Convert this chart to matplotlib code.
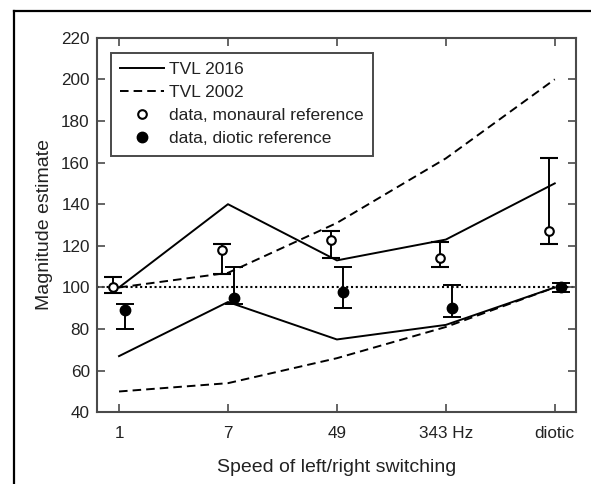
import matplotlib
matplotlib.use("Agg")
import matplotlib.pyplot as plt
from matplotlib.lines import Line2D
import numpy as np

plt.rcParams['font.family'] = ['Liberation Sans', 'DejaVu Sans']

# ---- data ----
categories = ["1", "7", "49", "343 Hz", "diotic"]
tvl2016_upper = [100, 140, 113, 123, 150]
tvl2016_lower = [67, 93, 75, 82, 100]
tvl2002_upper = [100, 107, 131, 162, 200]
tvl2002_lower = [50, 54, 66, 81, 100]

mono_mean = [100, 118, 123, 114, 127]
mono_low = [97.5, 106.5, 114, 110, 121]
mono_high = [105, 121, 127, 122, 162]

diotic_mean = [89, 95, 98, 90, 100]
diotic_low = [80, 92, 90, 86, 98]
diotic_high = [92, 110, 110, 101, 102]

yticks = [40, 60, 80, 100, 120, 140, 160, 180, 200, 220]
reference_level = 100

# ---- figure ----
W, H = 591, 484
fig = plt.figure(figsize=(W / 100, H / 100), dpi=100)
ax = fig.add_axes([96.7 / W, 1 - 412.3 / H, (576 - 96.7) / W, (412.3 - 37.7) / H])

x = np.arange(len(categories))
lw = 1.4
dash = (0, (4.4, 2.6))

ax.axhline(reference_level, color='black', linestyle=(0, (1, 1.3)), linewidth=1.5, zorder=1)

ax.plot(x, tvl2016_upper, color='black', linewidth=lw, zorder=2)
ax.plot(x, tvl2016_lower, color='black', linewidth=lw, zorder=2)
ax.plot(x, tvl2002_upper, color='black', linewidth=lw, linestyle=dash, zorder=2)
ax.plot(x, tvl2002_lower, color='black', linewidth=lw, linestyle=dash, zorder=2)

off = 0.055
mono_mean_a = np.array(mono_mean)
mono_err = [mono_mean_a - np.array(mono_low), np.array(mono_high) - mono_mean_a]
ax.errorbar(x - off, mono_mean, yerr=mono_err, fmt='o', mfc='white', mec='black',
            mew=1.5, ms=6.2, ecolor='black', elinewidth=1.4, capsize=6.5, capthick=1.4, zorder=3)

diotic_mean_a = np.array(diotic_mean)
diotic_err = [diotic_mean_a - np.array(diotic_low), np.array(diotic_high) - diotic_mean_a]
ax.errorbar(x + off, diotic_mean, yerr=diotic_err, fmt='o', mfc='black', mec='black',
            ms=7.5, ecolor='black', elinewidth=1.4, capsize=6.5, capthick=1.4, zorder=3)

ax.set_xlim(-0.205, 4.195)
ax.set_ylim(40, 220)
ax.set_xticks(x)
ax.set_xticklabels(categories)
ax.set_yticks(yticks)

spine_color = '#4a4a4a'
for s in ax.spines.values():
    s.set_color(spine_color)
    s.set_linewidth(1.5)
ax.tick_params(direction='in', length=5.5, width=1.2, color=spine_color,
               top=True, right=True, labelsize=12.3, pad=5, labelcolor='#222222')
ax.tick_params(axis='x', pad=10)

ax.set_xlabel("Speed of left/right switching", fontsize=14, labelpad=13, color='#222222')
ax.set_ylabel("Magnitude estimate", fontsize=14, labelpad=6, color='#222222')

handles = [
    Line2D([], [], color='black', linewidth=lw),
    Line2D([], [], color='black', linewidth=lw, linestyle=dash),
    Line2D([], [], color='black', marker='o', mfc='white', mew=1.5, ms=6.2, linestyle='none'),
    Line2D([], [], color='black', marker='o', mfc='black', ms=7.5, linestyle='none'),
]
labels = ["TVL 2016", "TVL 2002", "data, monaural reference", "data, diotic reference"]
leg = ax.legend(handles, labels, loc='upper left', bbox_to_anchor=(0.029, 0.96),
                borderaxespad=0, fancybox=False, framealpha=1, edgecolor='#4a4a4a',
                fontsize=12.5, handlelength=2.5, handletextpad=0.3, labelspacing=0.45,
                borderpad=0.55)
leg.get_frame().set_linewidth(1.4)
for t in leg.get_texts():
    t.set_color('#222222')

# outer frame (left and top)
fig.add_artist(Line2D([13.5 / W, 13.5 / W], [0, 1 - 10.5 / H], transform=fig.transFigure,
                      color='black', linewidth=1.6))
fig.add_artist(Line2D([13.5 / W, 1], [1 - 10.5 / H, 1 - 10.5 / H], transform=fig.transFigure,
                      color='black', linewidth=1.6))

fig.savefig("out.png", dpi=100)
